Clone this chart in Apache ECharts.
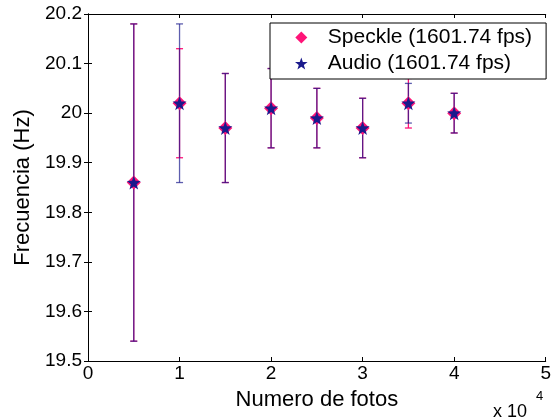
<!DOCTYPE html>
<html>
<head>
<meta charset="utf-8">
<script src="https://cdn.jsdelivr.net/npm/echarts@6/dist/echarts.min.js"></script>
<style>
  html, body { margin: 0; padding: 0; background: #fff; }
  #chart { width: 554px; height: 420px; }
</style>
</head>
<body>
<div id="chart"></div>
<script>
// numero de fotos
var fotos = [5000, 10000, 15000, 20000, 25000, 30000, 35000, 40000];
// Speckle
var speckleMean = [19.86, 20.02, 19.97, 20.01, 19.99, 19.97, 20.02, 20.00];
var speckleLow  = [19.54, 19.91, 19.86, 19.93, 19.93, 19.91, 19.97, 19.96];
var speckleHigh = [20.18, 20.13, 20.08, 20.09, 20.05, 20.03, 20.07, 20.04];
// Audio
var audioMean = [19.86, 20.02, 19.97, 20.01, 19.99, 19.97, 20.02, 20.00];
var audioLow  = [19.54, 19.86, 19.86, 19.93, 19.93, 19.91, 19.98, 19.96];
var audioHigh = [20.18, 20.18, 20.08, 20.09, 20.05, 20.03, 20.06, 20.04];
// ticks
var xTickLabels = ['0', '1', '2', '3', '4', '5'];
var yTickLabels = ['19.5', '19.6', '19.7', '19.8', '19.9', '20', '20.1', '20.2'];

var FONT = 'Liberation Sans, Arial, sans-serif';
var PINK = '#ff1478';
var NAVY = '#1a1a8c';
var STAR = 'path://M0,-10 L2.35,-3.24 L9.51,-3.09 L3.8,1.24 L5.88,8.09 L0,4 L-5.88,8.09 L-3.8,1.24 L-9.51,-3.09 L-2.35,-3.24 Z';
var DIAMOND = 'path://M0,-10 L10,0 L0,10 L-10,0 Z';

var chart = echarts.init(document.getElementById('chart'));

function pairs(xs, ys) {
    var out = [];
    for (var i = 0; i < xs.length; i++) out.push([xs[i], ys[i]]);
    return out;
}
function triples(xs, lo, hi) {
    var out = [];
    for (var i = 0; i < xs.length; i++) out.push([xs[i], lo[i], hi[i]]);
    return out;
}
function errorBar(color, opacity) {
    return function (params, api) {
        var x = api.value(0);
        var a = api.coord([x, api.value(1)]);
        var b = api.coord([x, api.value(2)]);
        var w = 3.5;
        var st = { stroke: color, lineWidth: 1.3, opacity: opacity };
        return {
            type: 'group',
            children: [
                { type: 'line', shape: { x1: a[0], y1: a[1], x2: b[0], y2: b[1] }, style: st },
                { type: 'line', shape: { x1: a[0] - w, y1: a[1], x2: a[0] + w, y2: a[1] }, style: st },
                { type: 'line', shape: { x1: b[0] - w, y1: b[1], x2: b[0] + w, y2: b[1] }, style: st }
            ]
        };
    };
}

var axisLine = { show: true, lineStyle: { color: '#000', width: 1 } };
var tick = { show: true, inside: true, length: 4, lineStyle: { color: '#000' } };

var option = {
    backgroundColor: '#fff',
    animation: false,
    textStyle: { fontFamily: FONT },
    grid: { left: 88, right: 4, top: 14, bottom: 59 },
    legend: {
        orient: 'vertical',
        left: 270,
        top: 23,
        padding: [4, 14, 5, 25],
        itemWidth: 43,
        itemHeight: 12,
        itemGap: 5,
        symbolKeepAspect: true,
        backgroundColor: '#fff',
        borderColor: '#000',
        borderWidth: 1,
        textStyle: { fontFamily: FONT, fontSize: 21, color: '#000' },
        data: [
            { name: 'Speckle (1601.74 fps)', icon: DIAMOND },
            { name: 'Audio (1601.74 fps)', icon: STAR }
        ]
    },
    xAxis: [{
        type: 'value', min: 0, max: 50000, interval: 10000,
        name: 'Numero de fotos', nameLocation: 'middle', nameGap: 28,
        nameTextStyle: { fontFamily: FONT, fontSize: 22, color: '#000' },
        axisLine: axisLine, axisTick: tick, splitLine: { show: false },
        axisLabel: {
            color: '#000', fontSize: 19, fontFamily: FONT, margin: 3,
            formatter: function (v) { return xTickLabels[Math.round(v / 10000)]; }
        }
    }, {
        type: 'value', position: 'top', min: 0, max: 50000, interval: 10000,
        axisLine: axisLine, axisTick: tick, axisLabel: { show: false }, splitLine: { show: false }
    }],
    yAxis: [{
        type: 'value', min: 19.5, max: 20.2, interval: 0.1,
        name: 'Frecuencia (Hz)', nameLocation: 'middle', nameGap: 52,
        nameTextStyle: { fontFamily: FONT, fontSize: 22, color: '#000' },
        axisLine: axisLine, axisTick: tick, splitLine: { show: false },
        axisLabel: {
            color: '#000', fontSize: 19, fontFamily: FONT, margin: 6,
            formatter: function (v) { return yTickLabels[Math.round((v - 19.5) / 0.1)]; }
        }
    }, {
        type: 'value', position: 'right', min: 19.5, max: 20.2, interval: 0.1,
        axisLine: axisLine, axisTick: tick, axisLabel: { show: false }, splitLine: { show: false }
    }],
    series: [
        {
            type: 'custom', name: 'speckleErr', silent: true, z: 2,
            renderItem: errorBar(PINK, 1),
            encode: { x: 0, y: [1, 2] },
            data: triples(fotos, speckleLow, speckleHigh)
        },
        {
            type: 'custom', name: 'audioErr', silent: true, z: 3,
            renderItem: errorBar(NAVY, 0.7),
            encode: { x: 0, y: [1, 2] },
            data: triples(fotos, audioLow, audioHigh)
        },
        {
            type: 'scatter', name: 'Speckle (1601.74 fps)', z: 4,
            symbol: DIAMOND, symbolSize: 14,
            itemStyle: { color: PINK, opacity: 1 },
            data: pairs(fotos, speckleMean)
        },
        {
            type: 'scatter', name: 'Audio (1601.74 fps)', z: 5,
            symbol: STAR, symbolSize: 14,
            itemStyle: { color: NAVY, opacity: 1 },
            data: pairs(fotos, audioMean)
        }
    ],
    graphic: [
        { type: 'text', left: 493, top: 403, style: { text: 'x 10', font: '18px ' + FONT, fill: '#000' } },
        { type: 'text', left: 536, top: 390, style: { text: '4', font: '13px ' + FONT, fill: '#000' } }
    ]
};

chart.setOption(option);
</script>
</body>
</html>
